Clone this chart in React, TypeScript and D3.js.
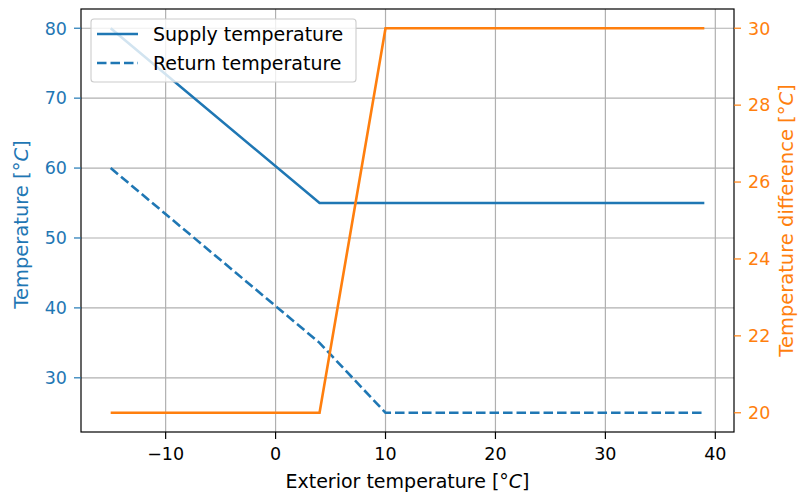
import * as d3 from 'd3';

const exterior = [-15, 4, 10, 39];
const supply = [80, 55, 55, 55];
const returnTemp = [60, 35, 25, 25];
const tempDiff = [20, 20, 30, 30];

const xTicks = [-10, 0, 10, 20, 30, 40];
const leftTicks = [30, 40, 50, 60, 70, 80];
const rightTicks = [20, 22, 24, 26, 28, 30];

const BLUE = '#1f77b4';
const ORANGE = '#ff7f0e';
const FONT = 'DejaVu Sans, sans-serif';
const TICK_FS = 17.5;
const LABEL_FS = 19.5;

export default function App() {
  const width = 798,
    height = 496;
  const left = 81,
    right = 734,
    top = 9,
    bottom = 432;

  const x = d3.scaleLinear().domain([-17.7, 41.7]).range([left, right]);
  const yL = d3.scaleLinear().domain([22.25, 82.75]).range([bottom, top]);
  const yR = d3.scaleLinear().domain([19.5, 30.5]).range([bottom, top]);

  const idx = exterior.map((_, i) => i);
  const lineL = (vals: number[]) =>
    d3
      .line<number>()
      .x((i) => x(exterior[i]))
      .y((i) => yL(vals[i]))(idx) as string;
  const lineR = d3
    .line<number>()
    .x((i) => x(exterior[i]))
    .y((i) => yR(tempDiff[i]))(idx) as string;

  const fmt = (v: number) => (v < 0 ? '\u2212' + Math.abs(v) : String(v));
  const LW = 2.6;
  const DASH = '9.5,4';
  const TL = 7;

  return (
    <svg
      width={width}
      height={height}
      style={{ position: 'absolute', left: 0, top: 0 }}
      fontFamily={FONT}
    >
      <rect width={width} height={height} fill="white" />
      {/* grid */}
      {xTicks.map((t) => (
        <line key={'gx' + t} x1={x(t)} x2={x(t)} y1={top} y2={bottom} stroke="#b0b0b0" strokeWidth={1.2} />
      ))}
      {leftTicks.map((t) => (
        <line key={'gy' + t} x1={left} x2={right} y1={yL(t)} y2={yL(t)} stroke="#b0b0b0" strokeWidth={1.2} />
      ))}

      {/* blue lines */}
      <path d={lineL(supply)} fill="none" stroke={BLUE} strokeWidth={LW} />
      <path d={lineL(returnTemp)} fill="none" stroke={BLUE} strokeWidth={LW} strokeDasharray={DASH} />

      {/* legend */}
      <g>
        <rect x={91} y={19} width={265} height={63} rx={3} fill="white" fillOpacity={0.8} stroke="#cccccc" strokeWidth={1.1} />
        <line x1={97} x2={138} y1={34} y2={34} stroke={BLUE} strokeWidth={LW} />
        <text x={153} y={34} dy="0.36em" fontSize={19} fill="#000">Supply temperature</text>
        <line x1={97} x2={138} y1={63} y2={63} stroke={BLUE} strokeWidth={LW} strokeDasharray={DASH} />
        <text x={153} y={63} dy="0.36em" fontSize={19} fill="#000">Return temperature</text>
      </g>

      {/* orange line */}
      <path d={lineR} fill="none" stroke={ORANGE} strokeWidth={LW} />

      {/* spines */}
      <rect x={left} y={top} width={right - left} height={bottom - top} fill="none" stroke="#000" strokeWidth={1.2} />

      {/* x ticks */}
      {xTicks.map((t) => (
        <g key={'xt' + t}>
          <line x1={x(t)} x2={x(t)} y1={bottom} y2={bottom + TL} stroke="#000" strokeWidth={1.2} />
          <text x={x(t)} y={bottom + 15} dy="0.76em" textAnchor="middle" fontSize={TICK_FS} fill="#000">
            {fmt(t)}
          </text>
        </g>
      ))}
      <text x={(left + right) / 2} y={488} textAnchor="middle" fontSize={19} fill="#000">
        Exterior temperature [°<tspan fontStyle="italic">C</tspan>]
      </text>

      {/* left ticks */}
      {leftTicks.map((t) => (
        <g key={'yl' + t}>
          <line x1={left - TL} x2={left} y1={yL(t)} y2={yL(t)} stroke={BLUE} strokeWidth={1.2} />
          <text x={left - 14} y={yL(t)} dy="0.36em" textAnchor="end" fontSize={TICK_FS} fill={BLUE}>
            {fmt(t)}
          </text>
        </g>
      ))}
      <text
        transform={`translate(28,${(top + bottom) / 2 + 4}) rotate(-90)`}
        textAnchor="middle"
        fontSize={LABEL_FS}
        fill={BLUE}
      >
        Temperature [°<tspan fontStyle="italic">C</tspan>]
      </text>

      {/* right ticks */}
      {rightTicks.map((t) => (
        <g key={'yr' + t}>
          <line x1={right} x2={right + TL} y1={yR(t)} y2={yR(t)} stroke={ORANGE} strokeWidth={1.2} />
          <text x={right + 14} y={yR(t)} dy="0.36em" textAnchor="start" fontSize={TICK_FS} fill={ORANGE}>
            {fmt(t)}
          </text>
        </g>
      ))}
      <text
        transform={`translate(793,${(top + bottom) / 2}) rotate(-90)`}
        textAnchor="middle"
        fontSize={LABEL_FS}
        fill={ORANGE}
      >
        Temperature difference [°<tspan fontStyle="italic">C</tspan>]
      </text>
    </svg>
  );
}
